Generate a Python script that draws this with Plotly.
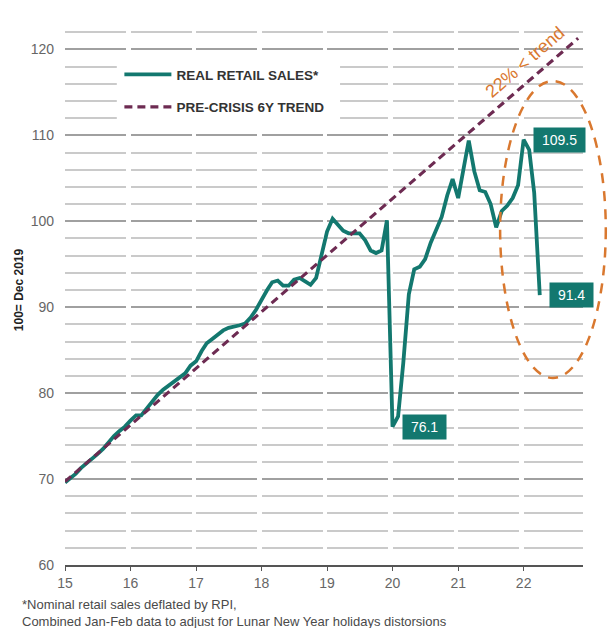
import plotly.graph_objects as go
import pandas as pd

# ---- data ----
start_month = "2015-01-01"
real_retail_sales = [
    69.6, 70.1, 70.6, 71.3, 71.8, 72.4, 72.9, 73.5, 74.3, 75.0, 75.6, 76.1,   # 2015
    76.8, 77.4, 77.4, 78.2, 79.1, 79.8, 80.4, 80.9, 81.3, 81.8, 82.3, 83.2,   # 2016
    83.7, 84.9, 85.8, 86.3, 86.8, 87.3, 87.6, 87.7, 87.9, 88.1, 88.8, 89.7,   # 2017
    90.9, 92.0, 92.9, 93.1, 92.5, 92.5, 93.2, 93.4, 93.0, 92.6, 93.4, 96.0,   # 2018
    98.8, 100.3, 99.6, 98.9, 98.6, 98.6, 98.6, 97.8, 96.6, 96.3, 96.6, 100.1, # 2019
    76.1, 77.3, 83.5, 91.5, 94.4, 94.7, 95.6, 97.5, 99.0, 100.5, 103.0, 104.9, # 2020
    102.7, 106.0, 109.4, 105.8, 103.6, 103.4, 102.0, 99.3, 101.2, 101.8, 102.7, 104.2, # 2021
    109.5, 108.3, 103.3, 91.4,                                               # 2022
]
trend_dates = ["2015-01-01", "2022-11-01"]
trend_values = [69.7, 121.3]
year_ticks = ["2015-01-01", "2016-01-01", "2017-01-01", "2018-01-01",
              "2019-01-01", "2020-01-01", "2021-01-01", "2022-01-01"]
y_ticks = [60, 70, 80, 90, 100, 110, 120]
labelled_points = [("2020-01-01", 76.1), ("2022-01-01", 109.5), ("2022-04-01", 91.4)]
footnotes = ["*Nominal retail sales deflated by RPI,",
             "Combined Jan-Feb data to adjust for Lunar New Year holidays distorsions"]

dates = pd.date_range(start_month, periods=len(real_retail_sales), freq="MS")

TEAL = "#13786f"
PLUM = "#6d2b52"
ORANGE = "#d9782f"
FONT = "Liberation Sans, Arial, sans-serif"

fig = go.Figure()
fig.add_trace(go.Scatter(
    x=dates, y=real_retail_sales, mode="lines", name="REAL RETAIL SALES*",
    line=dict(color=TEAL, width=3.8), legendgroup="a",
))
fig.add_trace(go.Scatter(
    x=trend_dates, y=trend_values, mode="lines", name="PRE-CRISIS 6Y TREND",
    line=dict(color=PLUM, width=3.2, dash="8px,5px"), legendgroup="b",
))

# value labels
for d, v in labelled_points:
    fig.add_annotation(
        x=d, y=v, xref="x", yref="y", text="&nbsp;" + str(v) + "&nbsp;", showarrow=False,
        xanchor="left", yanchor="middle", xshift=9,
        font=dict(family=FONT, size=14, color="white"),
        bgcolor=TEAL, borderpad=4,
    )

# white mask behind legend
fig.add_shape(type="rect", xref="paper", yref="paper",
              x0=0.100, x1=0.531, y0=0.798, y1=0.924,
              fillcolor="white", line=dict(width=0), layer="above")

# dashed orange ellipse
fig.add_shape(type="circle", xref="paper", yref="paper",
              x0=0.840, x1=1.044, y0=0.340, y1=0.880,
              line=dict(color=ORANGE, width=2.5, dash="10px,8px"))

fig.add_annotation(
    x=0.888, y=0.915, xref="paper", yref="paper", text="22% < trend",
    xanchor="center", yanchor="middle",
    showarrow=False, textangle=-41,
    font=dict(family=FONT, size=18, color=ORANGE),
)

for i, line in enumerate(footnotes):
    fig.add_annotation(
        x=-0.087, y=-0.071 - 0.031 * i, xref="paper", yref="paper",
        xanchor="left", yanchor="middle", align="left", showarrow=False,
        text=line, font=dict(family=FONT, size=13, color="#4a4a4a"),
    )

fig.update_layout(
    width=608, height=628,
    margin=dict(l=65, r=25, t=15, b=63),
    paper_bgcolor="white", plot_bgcolor="white",
    font=dict(family=FONT, color="#666666"),
    legend=dict(
        x=0.105, y=0.92, xanchor="left", yanchor="top",
        bgcolor="rgba(0,0,0,0)", itemwidth=47,
        traceorder="grouped", tracegroupgap=12,
        font=dict(family=FONT, size=13.5, color="#333333", weight="bold"),
    ),
    showlegend=True,
)

fig.update_xaxes(
    type="date", range=["2015-01-01", "2022-11-28"],
    tickvals=year_ticks, tickformat="%y", automargin=False,
    showgrid=False, zeroline=False,
    showline=True, linecolor="#555555", linewidth=1.5,
    ticks="outside", ticklen=4, tickcolor="#555555",
    tickfont=dict(family=FONT, size=14, color="#666666"),
)
fig.update_yaxes(
    range=[60, 124], tickvals=y_ticks, automargin=False,
    showgrid=True, gridcolor="#a0a0a0", gridwidth=1.5, griddash="61px,4.5px",
    minor=dict(dtick=2, showgrid=True, gridcolor="#cacaca", gridwidth=1.5, griddash="61px,4.5px"),
    zeroline=False, showline=False,
    ticklabelstandoff=10,
    tickfont=dict(family=FONT, size=14, color="#666666"),
    title=dict(text="<b>100= Dec 2019</b>", standoff=4,
               font=dict(family=FONT, size=12, color="#222222")),
)

fig.write_html(
    "out.html",
    config={"displayModeBar": False},
    post_script="document.body.style.margin='0';document.body.style.padding='0';document.body.style.overflow='hidden';",
)
